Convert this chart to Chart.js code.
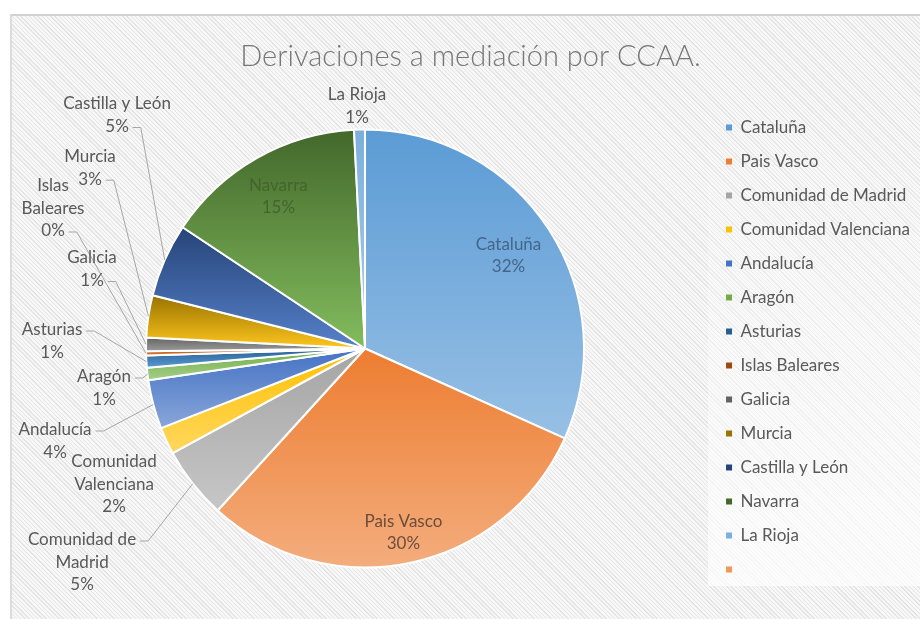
<!DOCTYPE html>
<html lang="es">
<head>
<meta charset="UTF-8">
<title>Derivaciones a mediación por CCAA.</title>
<script src="https://cdn.jsdelivr.net/npm/chart.js"></script>
<style>
  body { margin: 0; background: #fff; }
  .frame { position: relative; width: 920px; height: 619px; overflow: hidden; }
  .hatch { position: absolute; left: 10px; top: 14px; width: 930px; height: 620px;
           border-top: 2px solid #d2d2d2; border-left: 2px solid #dcdcdc;
           background: repeating-linear-gradient(45deg, #e5e5e5 0px, #e5e5e5 1px, #f7f7f7 1px, #f7f7f7 3px); }
  .legend-bg { position: absolute; left: 708px; top: 100px; width: 215px; height: 486px;
               background: linear-gradient(to bottom, rgba(255,255,255,0), rgba(255,255,255,0.7)); }
  .chart-box { position: absolute; left: 0; top: 0; width: 920px; height: 619px; }
</style>
</head>
<body>
<div class="frame">
  <div class="hatch"></div>
  <div class="legend-bg"></div>
  <div class="chart-box"><canvas id="pie"></canvas></div>
</div>

<script>
  // datos (porcentaje aproximado de cada comunidad)
  const regiones = ['Cataluña', 'Pais Vasco', 'Comunidad de Madrid', 'Comunidad Valenciana', 'Andalucía',
                    'Aragón', 'Asturias', 'Islas Baleares', 'Galicia', 'Murcia', 'Castilla y León',
                    'Navarra', 'La Rioja', ''];
  const derivaciones = [31.6, 29.9, 5.3, 2.0, 3.6, 0.9, 0.9, 0.3, 1.0, 3.1, 5.4, 14.8, 0.8, 0];
  const colores = ['#5B9BD5', '#ED7D31', '#A5A5A5', '#FFC000', '#4472C4', '#70AD47', '#255E91',
                   '#9E480E', '#636363', '#997300', '#264478', '#43682B', '#7CAFDD', '#F1975A'];

  const tituloTexto = 'Derivaciones a mediación por CCAA.';
  const fuente = 'Lato, "Open Sans", sans-serif';

  // etiquetas dentro de la tarta: distancia radial y color
  const dentroPos = {
    'Cataluña':   { r: 0.78, color: '#44658c' },
    'Pais Vasco': { r: 0.86, color: '#6b4d3c' },
    'Navarra':    { r: 0.80, color: '#44642f' }
  };
  // etiquetas fuera: desplazamiento respecto al centro, ancho de corte y linea de la guia
  const fueraPos = {
    'La Rioja':             { dx: -8,   dy: -253.5, ancho: 120, guia: null },
    'Castilla y León':      { dx: -248, dy: -244.5, ancho: 120, guia: 1 },
    'Murcia':               { dx: -275, dy: -191.8, ancho: 120, guia: 1 },
    'Islas Baleares':       { dx: -312, dy: -162.5, ancho: 70,  guia: 2 },
    'Galicia':              { dx: -273, dy: -90.5,  ancho: 120, guia: 1 },
    'Asturias':             { dx: -313, dy: -18.5,  ancho: 120, guia: 0 },
    'Aragón':               { dx: -261, dy: 28.5,   ancho: 120, guia: 0 },
    'Andalucía':            { dx: -310, dy: 81.5,   ancho: 120, guia: 0 },
    'Comunidad Valenciana': { dx: -251, dy: 113.5,  ancho: 100, guia: null },
    'Comunidad de Madrid':  { dx: -283, dy: 191.5,  ancho: 118, guia: 0 }
  };

  function aclarar(hex) {
    let r = parseInt(hex.slice(1, 3), 16) / 255, g = parseInt(hex.slice(3, 5), 16) / 255, b = parseInt(hex.slice(5, 7), 16) / 255;
    const max = Math.max(r, g, b), min = Math.min(r, g, b);
    let h = 0, s = 0, l = (max + min) / 2;
    if (max !== min) {
      const d = max - min;
      s = l > 0.5 ? d / (2 - max - min) : d / (max + min);
      if (max === r) h = (g - b) / d + (g < b ? 6 : 0);
      else if (max === g) h = (b - r) / d + 2;
      else h = (r - g) / d + 4;
      h /= 6;
    }
    l = l + (1 - l) * 0.37;
    return 'hsl(' + (h * 360).toFixed(1) + ',' + (s * 100).toFixed(1) + '%,' + (l * 100).toFixed(1) + '%)';
  }

  function partir(ctx, texto, ancho) {
    const palabras = texto.split(' ');
    const lineas = [];
    let actual = '';
    palabras.forEach(p => {
      const prueba = actual ? actual + ' ' + p : p;
      if (actual && ctx.measureText(prueba).width > ancho) {
        lineas.push(actual);
        actual = p;
      } else {
        actual = prueba;
      }
    });
    if (actual) lineas.push(actual);
    return lineas;
  }

  // degradado vertical de cada porcion, oscuro arriba y claro abajo
  const degradado = {
    id: 'degradado',
    beforeDatasetsDraw(chart) {
      const ctx = chart.ctx;
      chart.getDatasetMeta(0).data.forEach((arc, i) => {
        const p = arc.getProps(['x', 'y', 'startAngle', 'endAngle', 'outerRadius'], true);
        if (p.endAngle - p.startAngle <= 0) return;
        const ys = [p.y, p.y + p.outerRadius * Math.sin(p.startAngle), p.y + p.outerRadius * Math.sin(p.endAngle)];
        [-Math.PI / 2, Math.PI / 2, 3 * Math.PI / 2].forEach(a => {
          if (a >= p.startAngle && a <= p.endAngle) ys.push(p.y + p.outerRadius * Math.sin(a));
        });
        const top = Math.min(...ys), bottom = Math.max(...ys);
        const g = ctx.createLinearGradient(0, top, 0, bottom + 0.5);
        g.addColorStop(0, colores[i]);
        g.addColorStop(1, aclarar(colores[i]));
        arc.options.backgroundColor = g;
      });
    }
  };

  const etiquetas = {
    id: 'etiquetas',
    afterDatasetsDraw(chart) {
      const ctx = chart.ctx;
      const meta = chart.getDatasetMeta(0);
      const total = derivaciones.reduce((a, b) => a + b, 0);
      ctx.save();
      ctx.font = '17px ' + fuente;
      ctx.textAlign = 'center';
      ctx.textBaseline = 'middle';
      meta.data.forEach((arc, i) => {
        const nombre = regiones[i];
        if (!nombre) return;
        const pct = Math.round(derivaciones[i] / total * 100) + '%';
        const p = arc.getProps(['x', 'y', 'startAngle', 'endAngle', 'outerRadius'], true);
        const mid = (p.startAngle + p.endAngle) / 2;
        const dentro = dentroPos[nombre];
        if (dentro) {
          const lx = p.x + Math.cos(mid) * p.outerRadius * dentro.r;
          const ly = p.y + Math.sin(mid) * p.outerRadius * dentro.r;
          ctx.fillStyle = dentro.color;
          ctx.fillText(nombre, lx, ly - 11);
          ctx.fillText(pct, lx, ly + 11);
          return;
        }
        const f = fueraPos[nombre];
        if (!f) return;
        const lineas = partir(ctx, nombre, f.ancho).concat(pct);
        const bx = p.x + f.dx, by = p.y + f.dy;
        ctx.fillStyle = '#595959';
        lineas.forEach((t, k) => ctx.fillText(t, bx, by + k * 22.5));
        if (f.guia !== null) {
          const k = f.guia;
          const w = ctx.measureText(lineas[k]).width;
          const sx = bx + w / 2 + 4, sy = by + k * 22.5 + 1;
          const ex = p.x + Math.cos(mid) * p.outerRadius, ey = p.y + Math.sin(mid) * p.outerRadius;
          ctx.strokeStyle = '#a6a6a6';
          ctx.lineWidth = 1;
          ctx.beginPath();
          ctx.moveTo(sx, sy);
          ctx.lineTo(sx + 8, sy);
          ctx.lineTo(ex, ey);
          ctx.stroke();
        }
      });
      ctx.restore();
    }
  };

  const titulo = {
    id: 'titulo',
    afterDraw(chart) {
      const ctx = chart.ctx;
      ctx.save();
      ctx.font = '300 29px ' + fuente;
      ctx.fillStyle = '#767676';
      ctx.textAlign = 'center';
      ctx.textBaseline = 'middle';
      ctx.fillText(tituloTexto, (chart.chartArea.left + chart.width) / 2, 57);
      ctx.restore();
    }
  };

  new Chart(document.getElementById('pie'), {
    type: 'pie',
    data: {
      labels: regiones,
      datasets: [{
        data: derivaciones,
        backgroundColor: (c) => colores[c.dataIndex],
        borderColor: '#ffffff',
        borderWidth: 2,
        radius: 219
      }]
    },
    options: {
      responsive: true,
      maintainAspectRatio: false,
      animation: false,
      events: [],
      layout: { padding: { top: 78, left: 21, right: 0, bottom: 0 } },
      plugins: {
        tooltip: { enabled: false },
        title: { display: false },
        legend: {
          position: 'right',
          labels: {
            boxWidth: 6,
            boxHeight: 6,
            padding: 17,
            color: '#595959',
            font: { family: fuente, size: 17 },
            generateLabels(chart) {
              return Chart.overrides.doughnut.plugins.legend.labels.generateLabels(chart)
                .map(it => Object.assign(it, { lineWidth: 0, strokeStyle: 'rgba(0,0,0,0)' }));
            }
          }
        }
      }
    },
    plugins: [degradado, etiquetas, titulo]
  });
</script>
</body>
</html>
